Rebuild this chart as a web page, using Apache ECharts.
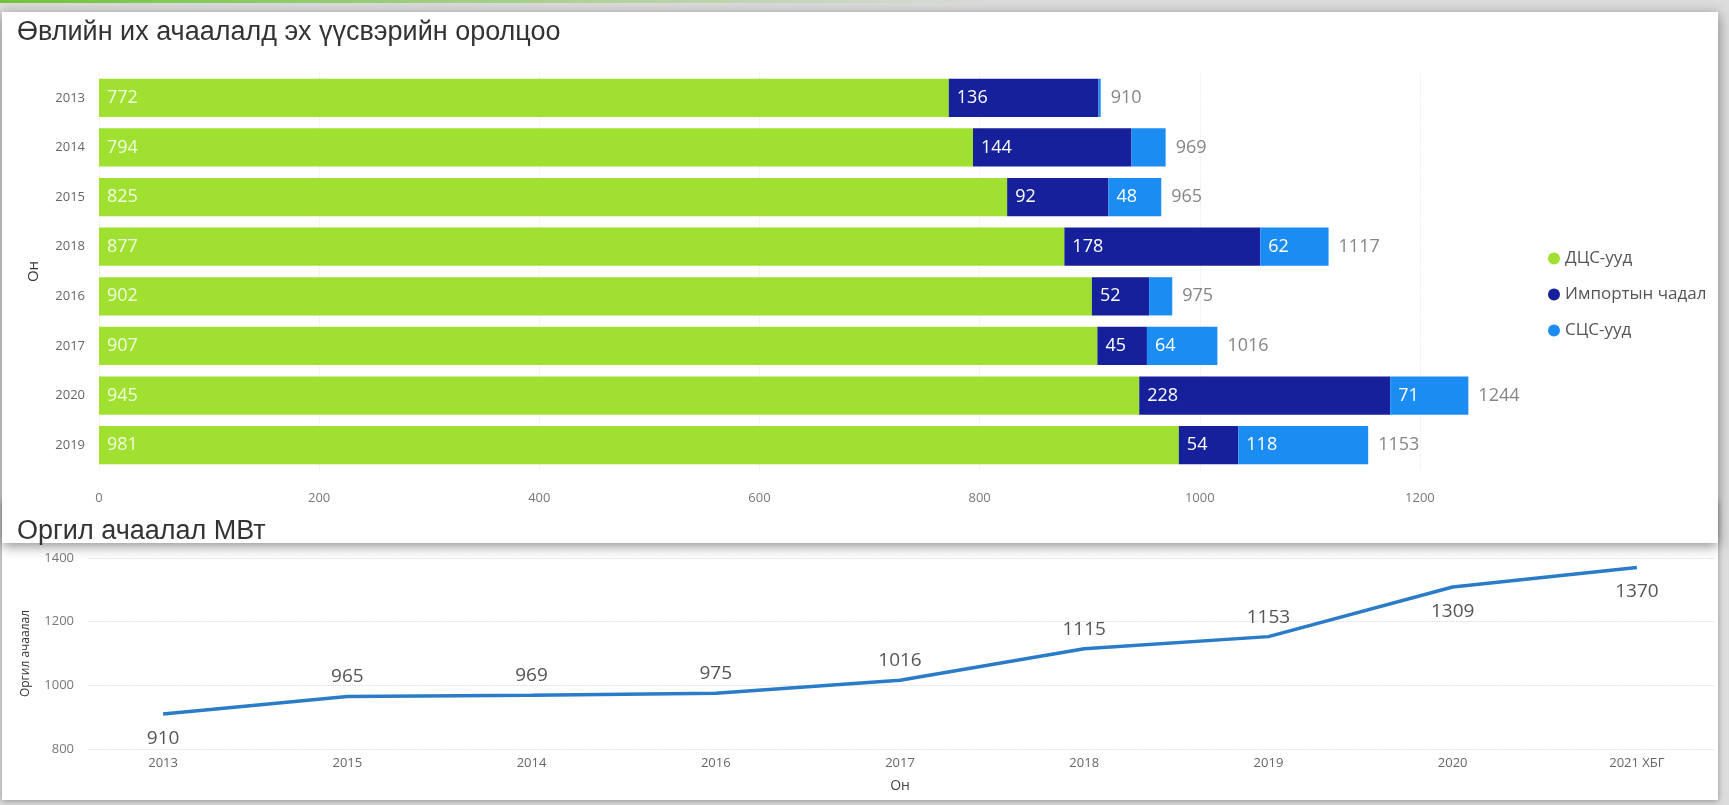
<!DOCTYPE html>
<html><head><meta charset="utf-8">
<script src="https://cdn.jsdelivr.net/npm/echarts@6/dist/echarts.min.js"></script>
<style>html,body{margin:0;padding:0;background:#dcdcdc;} #c{width:1729px;height:805px;}</style>
</head><body><div id="c"></div>
<script>
// ---- data ----
const barYears = ['2013', '2014', '2015', '2018', '2016', '2017', '2020', '2019'];
const dcsValues = [772, 794, 825, 877, 902, 907, 945, 981];
const importValues = [136, 144, 92, 178, 52, 45, 228, 54];
const scsValues = [2, 31, 48, 62, 21, 64, 71, 118];
const barTotals = [910, 969, 965, 1117, 975, 1016, 1244, 1153];
const seriesNames = ['ДЦС-ууд', 'Импортын чадал', 'СЦС-ууд'];

const peakYears = ['2013', '2015', '2014', '2016', '2017', '2018', '2019', '2020', '2021 ХБГ'];
const peakLoad = [910, 965, 969, 975, 1016, 1115, 1153, 1309, 1370];
const peakLabelBelow = [true, false, false, false, false, false, false, true, true];

const titleTop = 'Өвлийн их ачаалалд эх үүсвэрийн оролцоо';
const titleBottom = 'Оргил ачаалал МВт';
const axisNameYear = 'Он';
const axisNamePeak = 'Оргил ачаалал';

// ---- styles ----
const C_GREEN = '#9fe030', C_NAVY = '#16209a', C_BLUE = '#1a8cf2', C_LINE = '#2a7cc8';
const FONT = '"Open Sans", "Noto Sans", sans-serif';
const TFONT = '"Liberation Sans", Arial, sans-serif';
const plain = v => String(v);
const CLEAR = 'rgba(0,0,0,0)';

const chart = echarts.init(document.getElementById('c'), null, {renderer: 'canvas'});

const segLabel = (color) => ({
  show: true, position: 'insideLeft', distance: 8, color: color,
  fontFamily: FONT, fontSize: 18,
  formatter: p => (p.value >= 40 ? String(p.value) : '')
});

const option = {
  backgroundColor: 'transparent',
  animation: false,
  graphic: [
    {type: 'rect', z: -30, shape: {x: 2, y: 500, width: 1716, height: 300},
     style: {fill: '#fff', shadowBlur: 6, shadowColor: 'rgba(0,0,0,0.35)', shadowOffsetY: 1}},
    {type: 'rect', z: -20, shape: {x: 2, y: 12, width: 1716, height: 531},
     style: {fill: '#fff', shadowBlur: 12, shadowColor: 'rgba(0,0,0,0.45)', shadowOffsetY: 3}},
    {type: 'rect', z: -10, shape: {x: 0, y: 0, width: 1000, height: 3},
     style: {fill: new echarts.graphic.LinearGradient(0, 0, 1, 0, [
       {offset: 0, color: '#6fc43a'}, {offset: 1, color: 'rgba(111,196,58,0)'}])}}
  ],
  title: [
    {text: titleTop, left: 12, top: 14,
     textStyle: {fontFamily: TFONT, fontSize: 27, fontWeight: 'normal', color: '#333'}},
    {text: titleBottom, left: 12, top: 513,
     textStyle: {fontFamily: TFONT, fontSize: 27, fontWeight: 'normal', color: '#333'}}
  ],
  legend: {
    data: seriesNames, orient: 'vertical', left: 1543, top: 242, itemGap: 13,
    icon: 'circle', itemWidth: 12, itemHeight: 12, itemStyle: {borderWidth: 0},
    textStyle: {fontFamily: FONT, fontSize: 17, color: '#555', lineHeight: 23}
  },
  grid: [
    {left: 99, top: 73, width: 1431, height: 397},
    {left: 71, top: 558, width: 1662, height: 191},
    {left: 88, top: 558, right: 14, height: 191}
  ],
  xAxis: [
    {type: 'value', gridIndex: 0, min: 0, max: 1300, interval: 200,
     axisLine: {show: false}, axisTick: {show: false},
     axisLabel: {color: '#777', fontFamily: FONT, fontSize: 13, margin: 22, showMaxLabel: false, formatter: plain},
     splitLine: {show: true, showMaxLine: false, lineStyle: {color: '#ebebeb', type: 'dotted', width: 1.2}}},
    {type: 'category', gridIndex: 1, data: peakYears, boundaryGap: true,
     axisLine: {show: false}, axisTick: {show: false},
     axisLabel: {color: '#666', fontFamily: FONT, fontSize: 13, margin: 8},
     name: axisNameYear, nameLocation: 'middle', nameGap: 30,
     nameTextStyle: {color: '#444', fontFamily: FONT, fontSize: 14}},
    {type: 'value', gridIndex: 2, min: 0, max: 1, show: false}
  ],
  yAxis: [
    {type: 'category', gridIndex: 0, data: barYears, inverse: true,
     axisLine: {show: false}, axisTick: {show: false},
     axisLabel: {color: '#666', fontFamily: FONT, fontSize: 13, margin: 14},
     name: axisNameYear, nameLocation: 'middle', nameGap: 58, nameRotate: 90,
     nameTextStyle: {color: '#333', fontFamily: FONT, fontSize: 15}},
    {type: 'value', gridIndex: 1, min: 800, max: 1400, interval: 200, show: false},
    {type: 'value', gridIndex: 2, min: 800, max: 1400, interval: 200,
     axisLine: {show: false}, axisTick: {show: false},
     axisLabel: {color: '#777', fontFamily: FONT, fontSize: 13, margin: 14, formatter: plain},
     splitLine: {show: true, lineStyle: {color: '#d9d9d9', type: 'dotted', width: 1.2}},
     name: axisNamePeak, nameLocation: 'middle', nameGap: 56, nameRotate: 90,
     nameTextStyle: {color: '#333', fontFamily: FONT, fontSize: 12}}
  ],
  series: [
    {name: seriesNames[0], type: 'bar', stack: 'src', xAxisIndex: 0, yAxisIndex: 0,
     data: dcsValues, barCategoryGap: '23%', itemStyle: {color: C_GREEN},
     label: segLabel('#f3fbe2')},
    {name: seriesNames[1], type: 'bar', stack: 'src', xAxisIndex: 0, yAxisIndex: 0,
     data: importValues, itemStyle: {color: C_NAVY}, label: segLabel('#ffffff')},
    {name: seriesNames[2], type: 'bar', stack: 'src', xAxisIndex: 0, yAxisIndex: 0,
     data: scsValues, itemStyle: {color: C_BLUE}, label: segLabel('#ffffff')},
    {name: 'total', type: 'scatter', xAxisIndex: 0, yAxisIndex: 0, symbolSize: 0,
     itemStyle: {color: CLEAR},
     data: barYears.map((y, i) => [barTotals[i], y]), silent: true,
     label: {show: true, position: 'right', distance: 10, color: '#666',
       fontFamily: FONT, fontSize: 18, formatter: p => String(p.value[0])}},
    {name: 'peak', type: 'line', xAxisIndex: 1, yAxisIndex: 1,
     data: peakLoad.map((v, i) => ({value: v,
       label: peakLabelBelow[i] ? {position: 'bottom', distance: 14} : {position: 'top', distance: 9}})),
     symbol: 'circle', symbolSize: 2, showSymbol: true,
     lineStyle: {color: C_LINE, width: 3.5}, itemStyle: {color: CLEAR, borderWidth: 0},
     label: {show: true, distance: 9, color: '#555', fontFamily: FONT, fontSize: 19}}
  ]
};
chart.setOption(option);
</script>
</body></html>
